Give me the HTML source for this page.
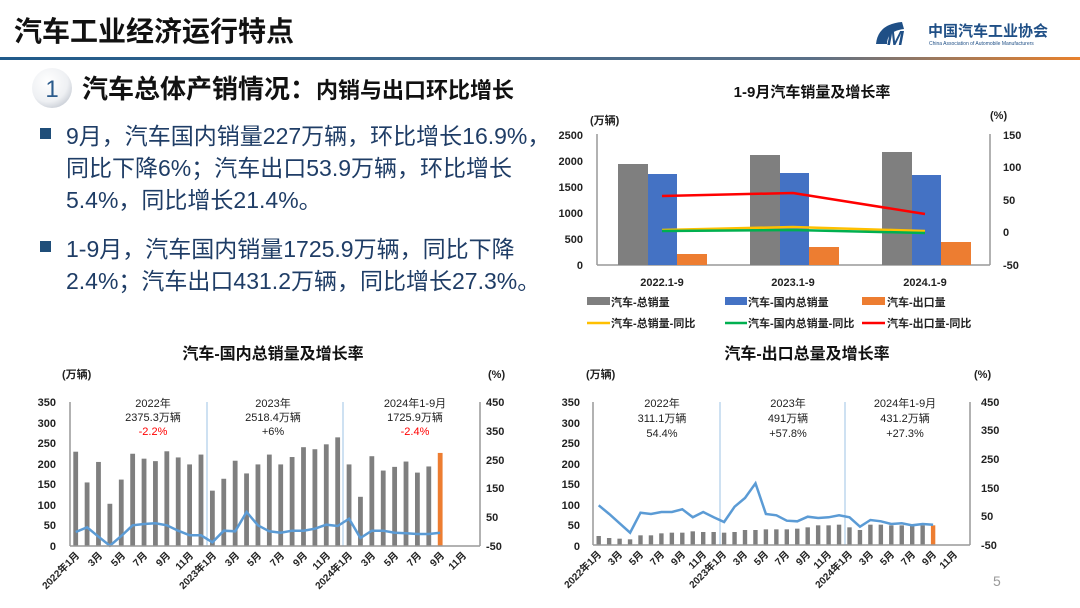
<!DOCTYPE html>
<html><head><meta charset="utf-8"><style>
html,body{margin:0;padding:0;background:#fff;}
svg{display:block;font-family:"Liberation Sans","Noto Sans CJK SC",sans-serif;}
</style></head><body>
<svg id="s" width="1080" height="608" viewBox="0 0 1080 608" xmlns="http://www.w3.org/2000/svg">
<defs>
<linearGradient id="hl" x1="0" x2="1"><stop offset="0" stop-color="#1f5a8a"/><stop offset="0.75" stop-color="#5a7088"/><stop offset="1" stop-color="#e8812c"/></linearGradient>
<radialGradient id="cg" cx="0.4" cy="0.35" r="0.7"><stop offset="0" stop-color="#ffffff"/><stop offset="0.7" stop-color="#eef0f3"/><stop offset="1" stop-color="#c9ced6"/></radialGradient>
</defs>
<text x="14" y="41" font-size="28" font-weight="bold" fill="#111">汽车工业经济运行特点</text>
<rect x="0" y="57" width="1080" height="3" fill="url(#hl)"/>
<!-- logo -->
<path d="M876 44 Q878 24 902 22 L904 29 Q887 31 887 44 Z" fill="#1f4f86"/>
<text x="887" y="45" font-size="20" font-weight="bold" fill="#1f4f86" font-style="italic">M</text>
<text x="928" y="36" font-size="15" font-weight="bold" fill="#1f4f86">中国汽车工业协会</text>
<text x="929" y="45" font-size="5" fill="#1f4f86">China Association of Automobile Manufacturers</text>
<!-- section -->
<circle cx="52" cy="88" r="20" fill="url(#cg)"/>
<text x="52" y="97" font-size="24" text-anchor="middle" fill="#2b5b8c">1</text>
<text x="82" y="98" font-size="26" font-weight="bold" fill="#111">汽车总体产销情况：<tspan font-size="22">内销与出口环比增长</tspan></text>
<g font-size="23" fill="#1f3d66">
<rect x="40" y="128" width="11" height="11" fill="#1f4e79"/>
<text x="66" y="144">9月，汽车国内销量227万辆，环比增长16.9%，</text>
<text x="66" y="176">同比下降6%；汽车出口53.9万辆，环比增长</text>
<text x="66" y="208">5.4%，同比增长21.4%。</text>
<rect x="40" y="241" width="11" height="11" fill="#1f4e79"/>
<text x="66" y="257">1-9月，汽车国内销量1725.9万辆，同比下降</text>
<text x="66" y="289">2.4%；汽车出口431.2万辆，同比增长27.3%。</text>
</g>
<!-- top chart -->
<text x="812" y="97" font-size="15" font-weight="bold" text-anchor="middle" fill="#111">1-9月汽车销量及增长率</text>
<g font-size="11" font-weight="bold" fill="#222">
<text x="590" y="124">(万辆)</text><text x="990" y="119">(%)</text>
<g text-anchor="end"><text x="583" y="139">2500</text><text x="583" y="165">2000</text><text x="583" y="191">1500</text><text x="583" y="217">1000</text><text x="583" y="243">500</text><text x="583" y="269">0</text></g>
<text x="1003" y="139">150</text><text x="1003" y="171">100</text><text x="1003" y="204">50</text><text x="1003" y="236">0</text><text x="1003" y="269">-50</text>
<g text-anchor="middle"><text x="662" y="286">2022.1-9</text><text x="793" y="286">2023.1-9</text><text x="925" y="286">2024.1-9</text></g>
</g>
<line x1="597" y1="134" x2="597" y2="265" stroke="#999" stroke-width="1.5"/>
<line x1="990" y1="134" x2="990" y2="265" stroke="#999" stroke-width="1.5"/>
<line x1="597" y1="265" x2="990" y2="265" stroke="#999" stroke-width="1.5"/>
<g>
<rect x="618" y="164" width="30" height="101" fill="#7f7f7f"/><rect x="648" y="174" width="29" height="91" fill="#4472c4"/><rect x="677" y="254" width="30" height="11" fill="#ed7d31"/>
<rect x="750" y="155" width="30" height="110" fill="#7f7f7f"/><rect x="780" y="173" width="29" height="92" fill="#4472c4"/><rect x="809" y="247" width="30" height="18" fill="#ed7d31"/>
<rect x="882" y="152" width="30" height="113" fill="#7f7f7f"/><rect x="912" y="175" width="29" height="90" fill="#4472c4"/><rect x="941" y="242" width="30" height="23" fill="#ed7d31"/>
</g>
<polyline points="662,196 793,193 925,214" fill="none" stroke="#f00" stroke-width="2.5"/>
<polyline points="662,230 793,227 925,231" fill="none" stroke="#ffc000" stroke-width="2.5"/>
<polyline points="662,231 793,230 925,233" fill="none" stroke="#00b050" stroke-width="2.5"/>
<g font-size="11" font-weight="bold" fill="#222">
<rect x="587" y="297" width="23" height="8" fill="#7f7f7f"/><text x="611" y="306">汽车-总销量</text>
<rect x="725" y="297" width="22" height="8" fill="#4472c4"/><text x="748" y="306">汽车-国内总销量</text>
<rect x="862" y="297" width="23" height="8" fill="#ed7d31"/><text x="887" y="306">汽车-出口量</text>
<line x1="587" y1="323" x2="610" y2="323" stroke="#ffc000" stroke-width="2.5"/><text x="611" y="327">汽车-总销量-同比</text>
<line x1="725" y1="323" x2="747" y2="323" stroke="#00b050" stroke-width="2.5"/><text x="748" y="327">汽车-国内总销量-同比</text>
<line x1="862" y1="323" x2="885" y2="323" stroke="#f00" stroke-width="2.5"/><text x="887" y="327">汽车-出口量-同比</text>
</g>
<!-- bottom left -->
<text x="273" y="359" font-size="16" font-weight="bold" text-anchor="middle" fill="#111">汽车-国内总销量及增长率</text>
<g font-size="11" font-weight="bold" fill="#222">
<text x="62" y="378">(万辆)</text><text x="488" y="378">(%)</text>
<g text-anchor="end"><text x="56" y="406">350</text><text x="56" y="427">300</text><text x="56" y="447">250</text><text x="56" y="468">200</text><text x="56" y="488">150</text><text x="56" y="509">100</text><text x="56" y="529">50</text><text x="56" y="550">0</text></g>
<text x="486" y="406">450</text><text x="486" y="435">350</text><text x="486" y="464">250</text><text x="486" y="492">150</text><text x="486" y="521">50</text><text x="486" y="550">-50</text>
</g>
<g font-size="11" text-anchor="middle" fill="#222">
<text x="153" y="407">2022年</text><text x="153" y="421">2375.3万辆</text><text x="153" y="435" fill="#f00">-2.2%</text>
<text x="273" y="407">2023年</text><text x="273" y="421">2518.4万辆</text><text x="273" y="435">+6%</text>
<text x="415" y="407">2024年1-9月</text><text x="415" y="421">1725.9万辆</text><text x="415" y="435" fill="#f00">-2.4%</text>
</g>
<line x1="207" y1="402" x2="207" y2="546" stroke="#9dc3e6" stroke-width="1"/>
<line x1="343" y1="402" x2="343" y2="546" stroke="#9dc3e6" stroke-width="1"/>
<g id="bl"></g>
<line x1="70" y1="402" x2="70" y2="546" stroke="#999" stroke-width="1.5"/>
<line x1="480" y1="402" x2="480" y2="546" stroke="#999" stroke-width="1.5"/>
<line x1="70" y1="546" x2="480" y2="546" stroke="#999" stroke-width="1.5"/>
<g font-size="10" font-weight="bold" fill="#222" text-anchor="end">
<text transform="translate(80,556) rotate(-45)">2022年1月</text>
<text transform="translate(103,556) rotate(-45)">3月</text>
<text transform="translate(126,556) rotate(-45)">5月</text>
<text transform="translate(148,556) rotate(-45)">7月</text>
<text transform="translate(171,556) rotate(-45)">9月</text>
<text transform="translate(194,556) rotate(-45)">11月</text>
<text transform="translate(217,556) rotate(-45)">2023年1月</text>
<text transform="translate(240,556) rotate(-45)">3月</text>
<text transform="translate(262,556) rotate(-45)">5月</text>
<text transform="translate(285,556) rotate(-45)">7月</text>
<text transform="translate(308,556) rotate(-45)">9月</text>
<text transform="translate(331,556) rotate(-45)">11月</text>
<text transform="translate(353,556) rotate(-45)">2024年1月</text>
<text transform="translate(376,556) rotate(-45)">3月</text>
<text transform="translate(399,556) rotate(-45)">5月</text>
<text transform="translate(422,556) rotate(-45)">7月</text>
<text transform="translate(445,556) rotate(-45)">9月</text>
<text transform="translate(467,556) rotate(-45)">11月</text>
</g>
<!-- bottom right -->
<text x="807" y="359" font-size="16" font-weight="bold" text-anchor="middle" fill="#111">汽车-出口总量及增长率</text>
<g font-size="11" font-weight="bold" fill="#222">
<text x="586" y="378">(万辆)</text><text x="974" y="378">(%)</text>
<g text-anchor="end"><text x="580" y="406">350</text><text x="580" y="427">300</text><text x="580" y="447">250</text><text x="580" y="468">200</text><text x="580" y="488">150</text><text x="580" y="509">100</text><text x="580" y="529">50</text><text x="580" y="550">0</text></g>
<text x="981" y="406">450</text><text x="981" y="434">350</text><text x="981" y="463">250</text><text x="981" y="492">150</text><text x="981" y="520">50</text><text x="981" y="549">-50</text>
</g>
<g font-size="11" text-anchor="middle" fill="#222">
<text x="662" y="407">2022年</text><text x="662" y="422">311.1万辆</text><text x="662" y="437">54.4%</text>
<text x="788" y="407">2023年</text><text x="788" y="422">491万辆</text><text x="788" y="437">+57.8%</text>
<text x="905" y="407">2024年1-9月</text><text x="905" y="422">431.2万辆</text><text x="905" y="437">+27.3%</text>
</g>
<line x1="720" y1="402" x2="720" y2="545" stroke="#9dc3e6" stroke-width="1"/>
<line x1="845" y1="402" x2="845" y2="545" stroke="#9dc3e6" stroke-width="1"/>
<g id="br"></g>
<line x1="593" y1="402" x2="593" y2="545" stroke="#999" stroke-width="1.5"/>
<line x1="970" y1="402" x2="970" y2="545" stroke="#999" stroke-width="1.5"/>
<line x1="593" y1="545" x2="970" y2="545" stroke="#999" stroke-width="1.5"/>
<g font-size="10" font-weight="bold" fill="#222" text-anchor="end">
<text transform="translate(602,555) rotate(-45)">2022年1月</text>
<text transform="translate(623,555) rotate(-45)">3月</text>
<text transform="translate(644,555) rotate(-45)">5月</text>
<text transform="translate(665,555) rotate(-45)">7月</text>
<text transform="translate(686,555) rotate(-45)">9月</text>
<text transform="translate(707,555) rotate(-45)">11月</text>
<text transform="translate(727,555) rotate(-45)">2023年1月</text>
<text transform="translate(748,555) rotate(-45)">3月</text>
<text transform="translate(769,555) rotate(-45)">5月</text>
<text transform="translate(790,555) rotate(-45)">7月</text>
<text transform="translate(811,555) rotate(-45)">9月</text>
<text transform="translate(832,555) rotate(-45)">11月</text>
<text transform="translate(853,555) rotate(-45)">2024年1月</text>
<text transform="translate(874,555) rotate(-45)">3月</text>
<text transform="translate(895,555) rotate(-45)">5月</text>
<text transform="translate(916,555) rotate(-45)">7月</text>
<text transform="translate(937,555) rotate(-45)">9月</text>
<text transform="translate(958,555) rotate(-45)">11月</text>
</g>
<text x="993" y="586" font-size="14" fill="#999">5</text>
</svg>
<script>
(function(){
var NS="http://www.w3.org/2000/svg";
function el(p,t,a){var e=document.createElementNS(NS,t);for(var k in a)e.setAttribute(k,a[k]);p.appendChild(e);return e;}
var bl=document.getElementById("bl");
var v=[230,155,205,103,162,225,213,207,231,216,199,223,135,164,208,177,199,223,199,217,241,236,248,265,199,120,219,184,193,206,179,194,227];
var lz=[576,562,590,617,588,556,552,550,556,572,586,586,607,572,574,516,556,574,578,572,572,566,554,558,536,594,572,572,578,580,582,582,578];
var pts=[];
for(var i=0;i<v.length;i++){var x=75.7+i*11.39;var h=v[i]*0.41;
el(bl,"rect",{x:x-2.4,y:546-h,width:4.8,height:h,fill:i==32?"#ed7d31":"#7f7f7f"});
pts.push(x.toFixed(1)+","+(340+lz[i]/3).toFixed(1));}
el(bl,"polyline",{points:pts.join(" "),fill:"none",stroke:"#5b9bd5","stroke-width":2.5});
var br=document.getElementById("br");
var bz=[588,594,596,598,586,586,580,578,578,574,576,576,578,576,570,570,568,568,568,566,562,556,556,554,562,570,554,554,556,556,558,556,556];
var rz=[496,522,550,578,518,522,516,516,508,532,516,532,546,500,474,430,522,526,542,544,530,534,532,526,532,560,540,544,552,550,556,552,554];
pts=[];
for(i=0;i<bz.length;i++){x=598.7+i*10.45;var t=340+bz[i]/3;
el(br,"rect",{x:x-2.2,y:t,width:4.4,height:545-t,fill:i==32?"#ed7d31":"#7f7f7f"});
pts.push(x.toFixed(1)+","+(340+rz[i]/3).toFixed(1));}
el(br,"polyline",{points:pts.join(" "),fill:"none",stroke:"#5b9bd5","stroke-width":2.5});
})();
</script>
</body></html>
